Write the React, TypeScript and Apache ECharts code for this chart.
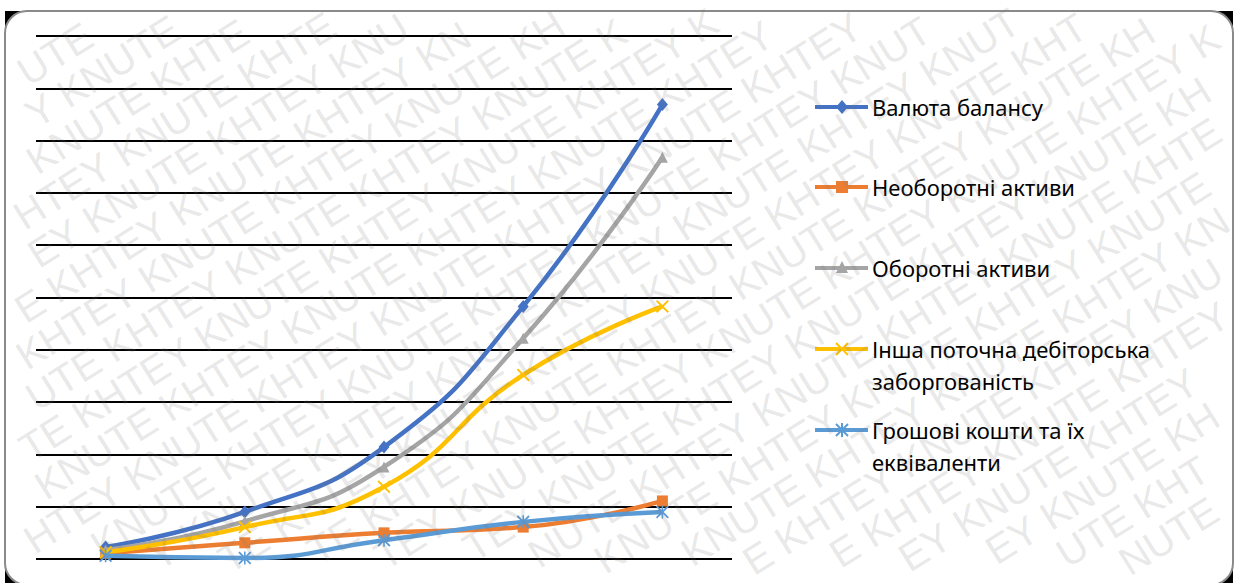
import React, { useEffect, useRef } from "react";
import * as echarts from "echarts";

const categories = ["1", "2", "3", "4", "5"];
const seriesNames = [
  "Валюта балансу",
  "Необоротні активи",
  "Оборотні активи",
  "Інша поточна дебіторська заборгованість",
  "Грошові кошти та їх еквіваленти",
];
const legendLabels = [
  "Валюта балансу",
  "Необоротні активи",
  "Оборотні активи",
  "Інша поточна дебіторська\nзаборгованість",
  "Грошові кошти та їх\nеквіваленти",
];
const balanceValues = [0.23, 0.9, 2.14, 4.83, 8.69];
const nonCurrentValues = [0.11, 0.31, 0.5, 0.61, 1.11];
const currentValues = [0.17, 0.72, 1.76, 4.22, 7.68];
const receivableValues = [0.13, 0.61, 1.38, 3.52, 4.83];
const cashValues = [0.06, 0.02, 0.36, 0.71, 0.9];
const colors = ["#4472C4", "#ED7D31", "#A5A5A5", "#FFC000", "#5B9BD5"];
const watermarkWords = ["KNUTE", "KHTEY"];

const X_PATH =
  "path://M0,1 L1,0 L5,4 L9,0 L10,1 L6,5 L10,9 L9,10 L5,6 L1,10 L0,9 L4,5 Z";
const STAR_PATH =
  "path://M0,1 L1,0 L5,4 L9,0 L10,1 L6,5 L10,9 L9,10 L5,6 L1,10 L0,9 L4,5 Z M4.4,0 L5.6,0 L5.6,10 L4.4,10 Z";
const symbols = ["diamond", "rect", "triangle", X_PATH, STAR_PATH];
const symbolSizes: any[] = [[11, 13], 11, 11, 13, 13];

const LETTER_W: Record<string, number> = {
  K: 0.667, N: 0.722, U: 0.722, T: 0.611, E: 0.667, H: 0.722, Y: 0.667,
};

export default function App() {
  const ref = useRef<HTMLDivElement>(null);
  useEffect(() => {
    if (!ref.current) return;
    const chart = echarts.init(ref.current, undefined, { renderer: "svg" });
    const data = [balanceValues, nonCurrentValues, currentValues, receivableValues, cashValues];

    const series = data.map((d, i) => ({
      name: seriesNames[i],
      type: "line",
      data: d,
      smooth: 0.5,
      symbol: symbols[i],
      symbolSize: symbolSizes[i],
      showAllSymbol: true,
      lineStyle: { color: colors[i], width: 4.5 },
      itemStyle: { color: colors[i] },
      z: 2 + i,
    }));

    const graphics: any[] = [];
    graphics.push({
      type: "rect",
      z: -20,
      shape: { x: 5, y: 11, width: 1228, height: 574 },
      style: { fill: "#000" },
      silent: true,
    });
    graphics.push({
      type: "rect",
      z: -19,
      shape: { x: 5, y: 11, width: 1228, height: 574, r: 22 },
      style: { fill: "#fff", stroke: "#8a8a8a", lineWidth: 2 },
      silent: true,
    });

    // legend
    const legendY = [107, 187, 268, 349, 430];
    const lx1 = 815;
    const lx2 = 868;
    const sx = 842;
    legendY.forEach((y, i) => {
      graphics.push({
        type: "line",
        z: 10,
        shape: { x1: lx1, y1: y, x2: lx2, y2: y },
        style: { stroke: colors[i], lineWidth: 4 },
      });
      graphics.push({
        type: "text",
        z: 10,
        x: 872,
        y: y - 16,
        style: {
          text: legendLabels[i],
          fontFamily: "Noto Sans",
          fontSize: 22,
          lineHeight: 32,
          fill: "#000",
          verticalAlign: "top",
          align: "left",
        },
      });
    });
    graphics.push({
      type: "polygon",
      z: 11,
      shape: { points: [[sx, legendY[0] - 7], [sx + 6, legendY[0]], [sx, legendY[0] + 7], [sx - 6, legendY[0]]] },
      style: { fill: colors[0] },
    });
    graphics.push({
      type: "rect",
      z: 11,
      shape: { x: sx - 6, y: legendY[1] - 6, width: 12, height: 12 },
      style: { fill: colors[1] },
    });
    graphics.push({
      type: "polygon",
      z: 11,
      shape: { points: [[sx, legendY[2] - 7], [sx + 6, legendY[2] + 5], [sx - 6, legendY[2] + 5]] },
      style: { fill: colors[2] },
    });
    [[-6, -6, 6, 6], [-6, 6, 6, -6]].forEach((p) =>
      graphics.push({
        type: "line",
        z: 11,
        shape: { x1: sx + p[0], y1: legendY[3] + p[1], x2: sx + p[2], y2: legendY[3] + p[3] },
        style: { stroke: colors[3], lineWidth: 2 },
      })
    );
    [[-6, -6, 6, 6], [-6, 6, 6, -6], [0, -7, 0, 7]].forEach((p) =>
      graphics.push({
        type: "line",
        z: 11,
        shape: { x1: sx + p[0], y1: legendY[4] + p[1], x2: sx + p[2], y2: legendY[4] + p[3] },
        style: { stroke: colors[4], lineWidth: 2 },
      })
    );

    // watermark: letters kept fully inside the picture
    const W = 1237;
    const H = 583;
    const rot = 0.56;
    const c = Math.cos(rot);
    const s = Math.sin(rot);
    const cx = 618;
    const cy = 291;
    const fs = 40;
    const halfH = 19;
    const spaceW = 0.278 * fs;
    const toPage = (u: number, v: number) => [cx + u * c + v * s, cy - u * s + v * c];
    let row = 0;
    for (let v = -900; v <= 900; v += 40) {
      let u = -1400 + ((row * 83) % 150);
      let wi = row % 2;
      while (u < 1400) {
        const word = watermarkWords[wi % 2];
        for (const ch of word) {
          const lw = LETTER_W[ch] * fs;
          const corners = [
            toPage(u, v - halfH),
            toPage(u + lw, v - halfH),
            toPage(u, v + halfH),
            toPage(u + lw, v + halfH),
          ];
          const inside = corners.every((p) => p[0] >= 1 && p[0] <= W - 1 && p[1] >= 1 && p[1] <= H - 1);
          if (inside) {
            const [px, py] = toPage(u, v);
            graphics.push({
              type: "text",
              z: 100,
              x: px,
              y: py,
              rotation: rot,
              silent: true,
              style: {
                text: ch,
                fontFamily: "Liberation Sans",
                fontSize: fs,
                fill: "rgba(120,120,120,0.18)",
                verticalAlign: "middle",
                align: "left",
              },
            });
          }
          u += lw;
        }
        u += spaceW;
        wi++;
      }
      row++;
    }

    chart.setOption({
      animation: false,
      grid: { left: 36, right: 505, top: 36, bottom: 24, containLabel: false },
      xAxis: {
        type: "category",
        data: categories,
        boundaryGap: true,
        axisLine: { show: false },
        axisTick: { show: false },
        axisLabel: { show: false },
      },
      yAxis: {
        type: "value",
        min: 0,
        max: 10,
        interval: 1,
        axisLine: { show: false },
        axisTick: { show: false },
        axisLabel: { show: false },
        splitLine: { show: true, lineStyle: { color: "#000", width: 2 } },
      },
      series,
      graphic: graphics,
    });
    return () => chart.dispose();
  }, []);
  return (
    <div
      ref={ref}
      style={{ position: "fixed", left: 0, top: 0, width: 1237, height: 583, background: "#fff" }}
    />
  );
}
